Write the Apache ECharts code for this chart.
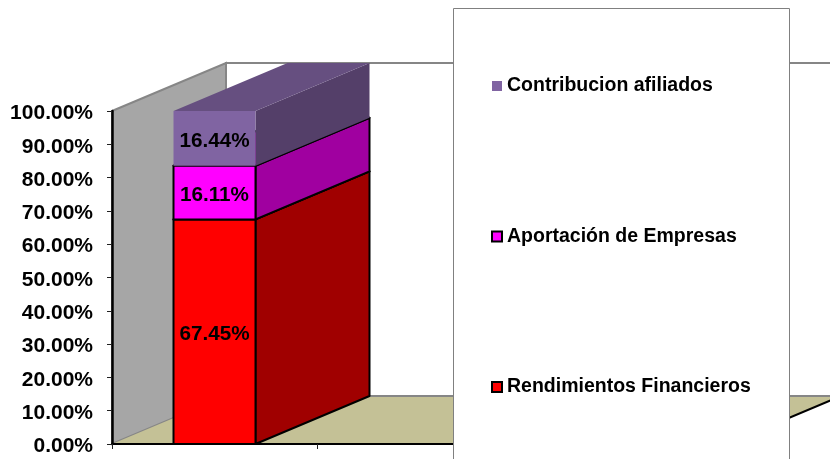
<!DOCTYPE html>
<html>
<head>
<meta charset="utf-8">
<style>html,body{margin:0;padding:0;background:#fff}#c{width:830px;height:459px}</style>
<script src="https://cdn.jsdelivr.net/npm/echarts@6/dist/echarts.min.js"></script>
</head>
<body>
<div id="c"></div>
<script>
const categories = ['', '', ''];
const rendimientos = [67.45];
const aportacion = [16.11];
const contribucion = [16.44];
const seriesNames = ['Rendimientos Financieros', 'Aportación de Empresas', 'Contribucion afiliados'];
const legendOrder = ['Contribucion afiliados', 'Aportación de Empresas', 'Rendimientos Financieros'];
const yMin = 0, yMax = 100, yStep = 10;

const DX = 114, DY = 48, BAR = 0.4;
const FONT = '"Liberation Sans", Arial, sans-serif';

function wallItem(params, api) {
  const c = api.coord([0, yMin]);
  const size = api.size([1, 0])[0];
  const x0 = c[0] - size / 2, y0 = c[1];
  const x1 = x0 + size * categories.length;
  const yT = api.coord([0, yMax])[1];
  const gray = '#868686';
  return { type: 'group', children: [
    { type: 'polygon', shape: { points: [[x0 + DX, yT - DY], [x1 + DX, yT - DY], [x1 + DX, y0 - DY], [x0 + DX, y0 - DY]] },
      style: { fill: '#fff', stroke: gray, lineWidth: 2 } },
    { type: 'polygon', shape: { points: [[x0, y0], [x0, yT], [x0 + DX, yT - DY], [x0 + DX, y0 - DY]] },
      style: { fill: '#A6A6A6', stroke: gray, lineWidth: 2 } },
    { type: 'polygon', shape: { points: [[x0, y0], [x0 + DX, y0 - DY], [x1 + DX, y0 - DY], [x1, y0]] },
      style: { fill: '#C4C196', stroke: null } },
    { type: 'line', shape: { x1: x0 + DX, y1: y0 - DY, x2: x1 + DX, y2: y0 - DY }, style: { stroke: gray, lineWidth: 2 } },
    { type: 'line', shape: { x1: x1, y1: y0, x2: x1 + DX, y2: y0 - DY }, style: { stroke: '#000', lineWidth: 2 } }
  ] };
}

function barRender(front, top, side, line) {
  return function (params, api) {
    const cat = api.value(0), lo = api.value(1), hi = api.value(2);
    const w = api.size([1, 0])[0] * BAR;
    const cx = api.coord([cat, lo])[0];
    const xl = cx - w / 2, xr = cx + w / 2;
    const yb = api.coord([cat, lo])[1], yt = api.coord([cat, hi])[1];
    const bw = line ? 2 : 0, st = line ? '#000' : null;
    const label = (hi - lo).toFixed(2) + '%';
    return { type: 'group', children: [
      { type: 'polygon', shape: { points: [[xr, yb], [xr + DX, yb - DY], [xr + DX, yt - DY], [xr, yt]] },
        style: { fill: side, stroke: st, lineWidth: bw, lineJoin: 'round' } },
      { type: 'polygon', shape: { points: [[xl, yt], [xl + DX, yt - DY], [xr + DX, yt - DY], [xr, yt]] },
        style: { fill: top, stroke: st, lineWidth: bw, lineJoin: 'round' } },
      { type: 'rect', shape: { x: xl, y: yt, width: w, height: yb - yt },
        style: { fill: front, stroke: st, lineWidth: bw, lineJoin: 'round' } },
      { type: 'text', z2: 5, style: { text: label, x: cx, y: (yt + yb) / 2 + 2.5, align: 'center', verticalAlign: 'middle',
        fill: '#000', font: 'bold 20.7px ' + FONT } }
    ] };
  };
}

function row(values, base) {
  return values.map((v, i) => [i, base[i], base[i] + v]);
}
const base0 = rendimientos.map(() => 0);
const base1 = rendimientos.slice();
const base2 = rendimientos.map((v, i) => v + aportacion[i]);

const option = {
  animation: false,
  backgroundColor: '#fff',
  grid: { left: 112, right: 103, top: 111, bottom: 15 },
  graphic: [
    { type: 'rect', z: 15, silent: true, shape: { x: 453.5, y: 8.5, width: 336, height: 480 },
      style: { fill: '#fff', stroke: '#808080', lineWidth: 1 } }
  ],
  xAxis: {
    type: 'category', data: categories, z: 6,
    axisLine: { lineStyle: { color: '#000', width: 2 } },
    axisTick: { show: true, length: 5, lineStyle: { color: '#222', width: 1 } },
    axisLabel: { show: false }, splitLine: { show: false }
  },
  yAxis: {
    type: 'value', min: yMin, max: yMax, interval: yStep, z: 6,
    axisLine: { show: true, lineStyle: { color: '#000', width: 2.5 } },
    axisTick: { show: true, length: 5, lineStyle: { color: '#222', width: 1 } },
    axisLabel: { color: '#000', margin: 19,
      formatter: v => '{t|' + v.toFixed(2) + '%}',
      rich: { t: { color: '#000', fontFamily: FONT, fontWeight: 'bold', fontSize: 21, padding: [5, 0, 0, 0] } } },
    splitLine: { show: false }
  },
  legend: {
    orient: 'vertical', left: 491, top: 76, z: 20,
    data: legendOrder, icon: 'rect', itemWidth: 10, itemHeight: 10, itemGap: 130.5,
    selectedMode: false, padding: 0,
    textStyle: { color: '#000', fontFamily: FONT, fontWeight: 'bold', fontSize: 19.5 }
  },
  series: [
    { type: 'custom', name: 'walls', z: 1, silent: true, clip: false, renderItem: wallItem, data: [[0]], encode: { x: 0 } },
    { type: 'custom', name: seriesNames[0], z: 2, clip: false,
      itemStyle: { color: '#FF0000', borderColor: '#000', borderWidth: 2 },
      renderItem: barRender('#FF0000', '#A00000', '#A00000', true),
      data: row(rendimientos, base0), encode: { x: 0, y: [1, 2] } },
    { type: 'custom', name: seriesNames[1], z: 3, clip: false,
      itemStyle: { color: '#FF00FF', borderColor: '#000', borderWidth: 2 },
      renderItem: barRender('#FF00FF', '#A000A0', '#A000A0', true),
      data: row(aportacion, base1), encode: { x: 0, y: [1, 2] } },
    { type: 'custom', name: seriesNames[2], z: 4, clip: false,
      itemStyle: { color: '#8064A2' },
      renderItem: barRender('#8064A2', '#664F80', '#543F69', false),
      data: row(contribucion, base2), encode: { x: 0, y: [1, 2] } }
  ]
};
echarts.init(document.getElementById('c'), null, { renderer: 'canvas' }).setOption(option);
</script>
</body>
</html>
